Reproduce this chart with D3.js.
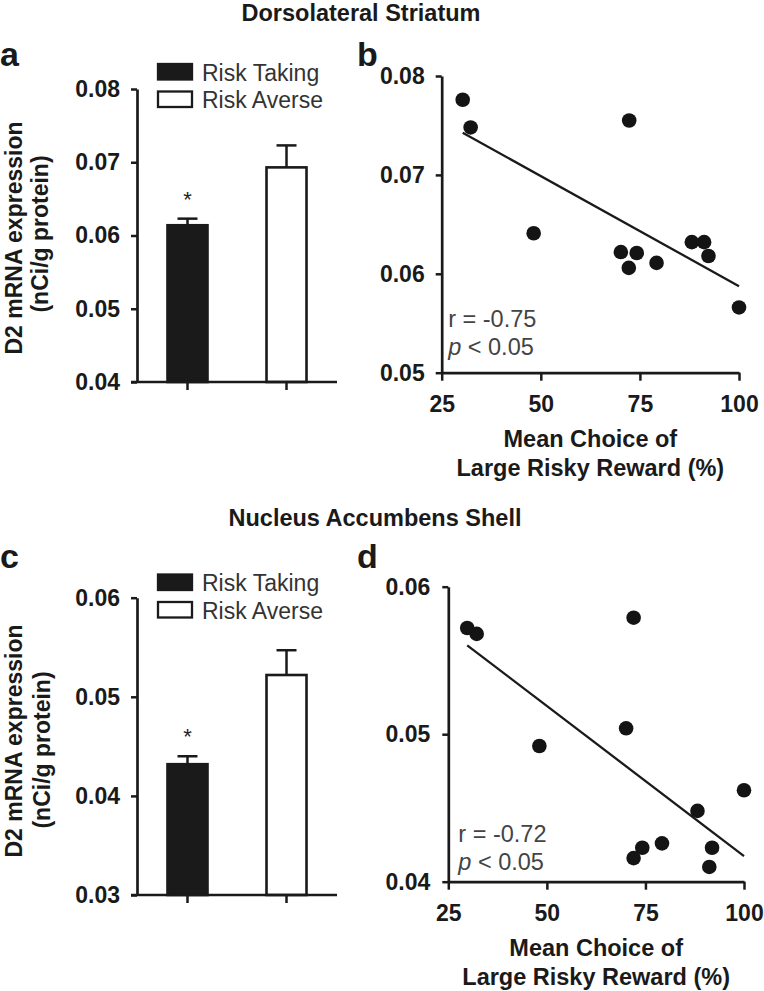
<!DOCTYPE html>
<html>
<head>
<meta charset="utf-8">
<script src="https://cdn.jsdelivr.net/npm/d3@7"></script>
<style>
  body { margin: 0; background: #fff; }
  svg text { font-family: "Liberation Sans", Arial, Helvetica, sans-serif; }
</style>
</head>
<body>
<div id="chart"></div>
<script>
(function() {
  // values
  var groups = ["Risk Taking", "Risk Averse"];

  var dlsMean = [0.0614, 0.0693];
  var dlsSem = [0.0009, 0.0030];
  var nacMean = [0.0432, 0.0522];
  var nacSem = [0.0008, 0.0025];

  var dlsChoice = [30.3, 32.3, 72.3, 48.2, 70.2, 74.2, 72.2, 79.2, 88.1, 91.2, 92.3, 100];
  var dlsD2 = [0.0776, 0.0748, 0.0755, 0.0641, 0.0622, 0.0621, 0.0606, 0.0611, 0.0632, 0.0632, 0.0618, 0.0566];
  var nacChoice = [29.8, 32.2, 72.0, 48.1, 70.1, 100, 88.2, 79.2, 74.2, 72.0, 91.9, 91.2];
  var nacD2 = [0.0572, 0.0568, 0.0579, 0.0492, 0.0504, 0.0462, 0.0448, 0.0426, 0.0423, 0.0416, 0.0423, 0.0410];

  var dlsBarTicks = [0.04, 0.05, 0.06, 0.07, 0.08];
  var dlsCorrTicks = [0.05, 0.06, 0.07, 0.08];
  var nacBarTicks = [0.03, 0.04, 0.05, 0.06];
  var nacCorrTicks = [0.04, 0.05, 0.06];
  var choiceTicks = [25, 50, 75, 100];

  var regions = ["Dorsolateral Striatum", "Nucleus Accumbens Shell"];
  var rValues = ["-0.75", "-0.72"];
  var pValues = ["0.05", "0.05"];

  var width = 764, height = 991;
  var fmt = d3.format(".2f");

  var svg = d3.select("#chart")
    .append("svg")
    .attr("width", width)
    .attr("height", height);

  function styleAxis(g, size) {
    g.selectAll(".domain").attr("stroke", "#1a1a1a").attr("stroke-width", 2.7)
    g.selectAll(".tick line").attr("stroke", "#1a1a1a").attr("stroke-width", 2.5)
    g.selectAll(".tick text")
      .attr("fill", "#1a1a1a")
      .style("font-size", size + "px")
      .style("font-weight", "bold")
  }

  /* bar panels (a, c) */
  function drawBars(o) {
    var y = d3.scaleLinear().domain(o.domain).range([o.bottom, o.top])
    var x = d3.scaleBand().domain(groups).range([o.left, o.right])
      .paddingInner(0.596).paddingOuter(0.308)

    var rows = groups.map(function(g, i) {
      return { name: g, mean: o.means[i], sem: o.sems[i] }
    })

    svg.selectAll(".bar-" + o.id)
      .data(rows)
      .enter().append("rect")
      .attr("class", "bar-" + o.id)
      .attr("x", function(d) { return x(d.name) })
      .attr("width", x.bandwidth())
      .attr("y", function(d) { return y(d.mean) })
      .attr("height", function(d) { return y(o.domain[0]) - y(d.mean) })
      .attr("fill", function(d, i) { return i === 0 ? "#1a1a1a" : "#fff" })
      .attr("stroke", "#1a1a1a")
      .attr("stroke-width", 2.6)

    // error bars (upper half only)
    rows.forEach(function(d) {
      var cx = x(d.name) + x.bandwidth() / 2
      svg.append("line")
        .attr("x1", cx).attr("x2", cx)
        .attr("y1", y(d.mean)).attr("y2", y(d.mean + d.sem))
        .attr("stroke", "#1a1a1a").attr("stroke-width", 2.5)
      svg.append("line")
        .attr("x1", cx - 10).attr("x2", cx + 10)
        .attr("y1", y(d.mean + d.sem)).attr("y2", y(d.mean + d.sem))
        .attr("stroke", "#1a1a1a").attr("stroke-width", 2.5)
    })

    // significance star over risk taking
    svg.append("text")
      .attr("x", x(groups[0]) + x.bandwidth() / 2)
      .attr("y", y(rows[0].mean + rows[0].sem) - 12)
      .attr("text-anchor", "middle")
      .attr("fill", "#222")
      .style("font-size", "22px")
      .text("*")

    var yAxis = d3.axisLeft(y)
      .tickValues(o.ticks)
      .tickFormat(fmt)
      .tickSize(6)
      .tickPadding(11)
      .tickSizeOuter(0)
    svg.append("g")
      .attr("transform", "translate(" + o.left + ",0)")
      .call(yAxis)
      .call(styleAxis, 23)

    var xAxis = d3.axisBottom(x).tickSize(8).tickSizeOuter(0).tickFormat("")
    var gx = svg.append("g")
      .attr("transform", "translate(0," + o.bottom + ")")
      .call(xAxis)
      .call(styleAxis, 23)
    gx.select(".domain").attr("d", "M" + (o.left - 6) + ",0H" + o.right)

    // legend
    groups.forEach(function(g, i) {
      var ly = o.legendTop + i * 27.5
      svg.append("rect")
        .attr("x", 158).attr("y", ly)
        .attr("width", 34).attr("height", 15.5)
        .attr("fill", i === 0 ? "#1a1a1a" : "#fff")
        .attr("stroke", "#1a1a1a").attr("stroke-width", 2.3)
      svg.append("text")
        .attr("x", 202).attr("y", ly + 16.5)
        .attr("fill", "#333")
        .style("font-size", "23px")
        .text(g)
    })

    // y title, two lines, rotated
    var t = svg.append("g").style("font-weight", "bold").attr("fill", "#1a1a1a")
    t.append("text")
      .attr("transform", "translate(" + o.label1X + "," + o.label1Y + ") rotate(-90)")
      .attr("text-anchor", "middle")
      .style("font-size", "23px")
      .text("D2 mRNA expression")
    t.append("text")
      .attr("transform", "translate(" + o.label2X + "," + o.label2Y + ") rotate(-90)")
      .attr("text-anchor", "middle")
      .style("font-size", "23px")
      .text("(nCi/g protein)")
  }

  /* scatter panels (b, d) */
  function drawScatter(o) {
    var x = d3.scaleLinear().domain([25, 100]).range([o.left, o.right])
    var y = d3.scaleLinear().domain(o.domain).range([o.bottom, o.top])

    var pts = o.xs.map(function(v, i) { return { x: v, y: o.ys[i] } })

    // least squares fit
    var mx = d3.mean(o.xs), my = d3.mean(o.ys)
    var sxy = d3.sum(pts, function(d) { return (d.x - mx) * (d.y - my) })
    var sxx = d3.sum(pts, function(d) { return (d.x - mx) * (d.x - mx) })
    var slope = sxy / sxx, icpt = my - slope * mx
    var ext = d3.extent(o.xs)

    var yAxis = d3.axisLeft(y)
      .tickValues(o.ticks)
      .tickFormat(fmt)
      .tickSize(6)
      .tickPadding(o.yPad)
      .tickSizeOuter(0)
    svg.append("g")
      .attr("transform", "translate(" + o.left + ",0)")
      .call(yAxis)
      .call(styleAxis, 23)

    var xAxis = d3.axisBottom(x)
      .tickValues(choiceTicks)
      .tickSize(8)
      .tickPadding(14.5)
      .tickSizeOuter(0)
    svg.append("g")
      .attr("transform", "translate(0," + o.bottom + ")")
      .call(xAxis)
      .call(styleAxis, 23)

    svg.append("line")
      .attr("x1", x(ext[0])).attr("y1", y(icpt + slope * ext[0]))
      .attr("x2", x(ext[1])).attr("y2", y(icpt + slope * ext[1]))
      .attr("stroke", "#1a1a1a")
      .attr("stroke-width", 2.3)

    svg.selectAll(".dot-" + o.id)
      .data(pts)
      .enter().append("circle")
      .attr("class", "dot-" + o.id)
      .attr("cx", function(d) { return x(d.x) })
      .attr("cy", function(d) { return y(d.y) })
      .attr("r", 7.3)
      .attr("fill", "#141414")

    var s = svg.append("g").attr("fill", "#444").style("font-size", "23.5px")
    s.append("text")
      .attr("x", o.left + o.statDx).attr("y", o.bottom - o.statDy)
      .text("r = " + o.r)
    var p = s.append("text")
      .attr("x", o.left + o.statDx).attr("y", o.bottom - o.statDy + 28.5)
    p.append("tspan").style("font-style", "italic").text("p")
    p.append("tspan").text(" < " + o.p)

    var cx = (o.left + o.right) / 2
    var xt = svg.append("g")
      .attr("fill", "#1a1a1a")
      .style("font-size", "23.5px")
      .style("font-weight", "bold")
      .attr("text-anchor", "middle")
    xt.append("text").attr("x", cx).attr("y", o.bottom + 74.5).text("Mean Choice of")
    xt.append("text").attr("x", cx).attr("y", o.bottom + 103.5).text("Large Risky Reward (%)")
  }

  // region headings and panel letters
  svg.append("text")
    .attr("x", 361).attr("y", 21)
    .attr("text-anchor", "middle")
    .attr("fill", "#1a1a1a")
    .style("font-size", "23.5px").style("font-weight", "bold")
    .text(regions[0])
  svg.append("text")
    .attr("x", 375).attr("y", 526)
    .attr("text-anchor", "middle")
    .attr("fill", "#1a1a1a")
    .style("font-size", "23.5px").style("font-weight", "bold")
    .text(regions[1])

  var letters = [["a", 0, 66], ["b", 357, 66], ["c", 0, 568], ["d", 357, 568]]
  svg.selectAll(".panel-letter")
    .data(letters)
    .enter().append("text")
    .attr("class", "panel-letter")
    .attr("x", function(d) { return d[1] })
    .attr("y", function(d) { return d[2] })
    .attr("fill", "#1a1a1a")
    .style("font-size", "34px").style("font-weight", "bold")
    .text(function(d) { return d[0] })

  drawBars({
    id: "a", left: 137, right: 337, top: 89, bottom: 382,
    domain: [0.04, 0.08], ticks: dlsBarTicks,
    means: dlsMean, sems: dlsSem, legendTop: 64,
    label1X: 21.5, label1Y: 238, label2X: 48, label2Y: 234
  })

  drawScatter({
    id: "b", left: 441.7, right: 739, top: 76, bottom: 372.7,
    domain: [0.05, 0.08], ticks: dlsCorrTicks, yPad: 11,
    xs: dlsChoice, ys: dlsD2, r: rValues[0], p: pValues[0],
    statDx: 6.5, statDy: 46
  })

  drawBars({
    id: "c", left: 137, right: 337, top: 597.7, bottom: 895,
    domain: [0.03, 0.06], ticks: nacBarTicks,
    means: nacMean, sems: nacSem, legendTop: 574.5,
    label1X: 22, label1Y: 741, label2X: 50, label2Y: 750
  })

  drawScatter({
    id: "d", left: 448.3, right: 744, top: 586.7, bottom: 881.7,
    domain: [0.04, 0.06], ticks: nacCorrTicks, yPad: 12,
    xs: nacChoice, ys: nacD2, r: rValues[1], p: pValues[1],
    statDx: 10, statDy: 40
  })
})();
</script>
</body>
</html>
